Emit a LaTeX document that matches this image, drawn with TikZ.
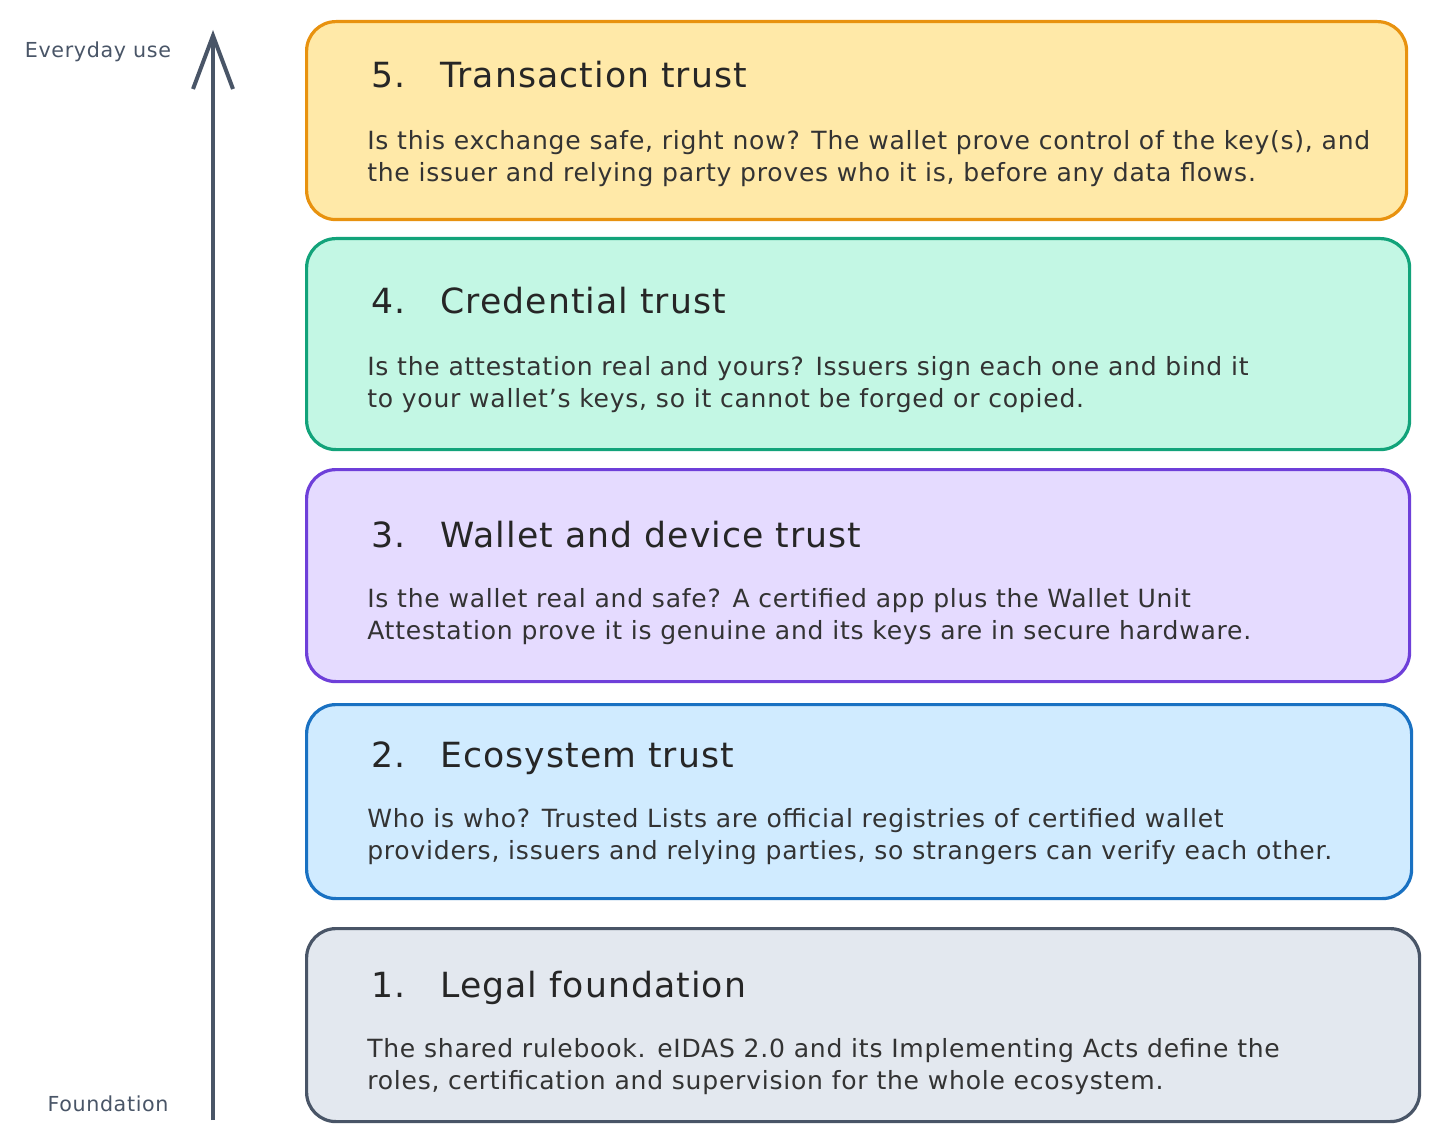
\documentclass[tikz,border=0pt]{standalone}
\usepackage{fontspec}
\setmainfont{DejaVu Sans}[LetterSpace=3]
\usetikzlibrary{arrows.meta}
\definecolor{orangeB}{HTML}{E8920F}\definecolor{orangeF}{HTML}{FFE9A8}
\definecolor{greenB}{HTML}{12A37A}\definecolor{greenF}{HTML}{C3F7E4}
\definecolor{violetB}{HTML}{6E3FD9}\definecolor{violetF}{HTML}{E5DBFF}
\definecolor{blueB}{HTML}{1971C2}\definecolor{blueF}{HTML}{D0EBFF}
\definecolor{greyB}{HTML}{495567}\definecolor{greyF}{HTML}{E3E8EF}
\begin{document}
\begin{tikzpicture}[x=0.75pt,y=-0.75pt,
  layer/.style={draw=#1B,fill=#1F,line width=2.4pt,rounded corners=22pt,anchor=north west,inner sep=0pt},
  title/.style={anchor=base west,font=\fontsize{26}{28}\selectfont,text=black!85},
  body/.style={anchor=north west,align=left,inner sep=0pt,font=\fontsize{18.8}{24}\selectfont,text=black!80},
  axis label/.style={font=\fontsize{15.5}{18}\selectfont,text=greyB}]
  \useasboundingbox (0,0) rectangle (1438,1141);
  % layers
  \node[layer=orange,minimum width=1100*0.75pt,minimum height=198*0.75pt] (L5) at (305,20) {};
  \node[layer=green,minimum width=1103*0.75pt,minimum height=211*0.75pt] (L4) at (305,237) {};
  \node[layer=violet,minimum width=1103*0.75pt,minimum height=212*0.75pt] (L3) at (305,468) {};
  \node[layer=blue,minimum width=1105*0.75pt,minimum height=194*0.75pt] (L2) at (305,703) {};
  \node[layer=grey,minimum width=1113*0.75pt,minimum height=193*0.75pt] (L1) at (305,927) {};
  % titles
  \node[title] (T5) at (367,88) {5.\quad Transaction trust};
  \node[title] (T4) at (367,314) {4.\quad Credential trust};
  \node[title] (T3) at (367,547) {3.\quad Wallet and device trust};
  \node[title] (T2) at (367,767) {2.\quad Ecosystem trust};
  \node[title] (T1) at (367,997) {1.\quad Legal foundation};
  % descriptions
  \node[body] (D5) at (367,130) {Is this exchange safe, right now? The wallet prove control of the key(s), and\\the issuer and relying party proves who it is, before any data flows.};
  \node[body] (D4) at (367,356) {Is the attestation real and yours? Issuers sign each one and bind it\\to your wallet's keys, so it cannot be forged or copied.};
  \node[body] (D3) at (367,588) {Is the wallet real and safe? A certified app plus the Wallet Unit\\Attestation prove it is genuine and its keys are in secure hardware.};
  \node[body] (D2) at (367,808) {Who is who? Trusted Lists are official registries of certified wallet\\providers, issuers and relying parties, so strangers can verify each other.};
  \node[body] (D1) at (367,1038) {The shared rulebook. eIDAS 2.0 and its Implementing Acts define the\\roles, certification and supervision for the whole ecosystem.};
  % axis
  \coordinate (bottom) at (213,1120);
  \coordinate (top) at (213,30);
  \draw[greyB,line width=3pt,-{Straight Barb[length=40pt,width=30pt,line width=3pt]}] (bottom) -- (top);
  \node[axis label] (everyday) at (98,52) {Everyday use};
  \node[axis label] (found) at (108,1104) {Foundation};
\end{tikzpicture}
\end{document}
